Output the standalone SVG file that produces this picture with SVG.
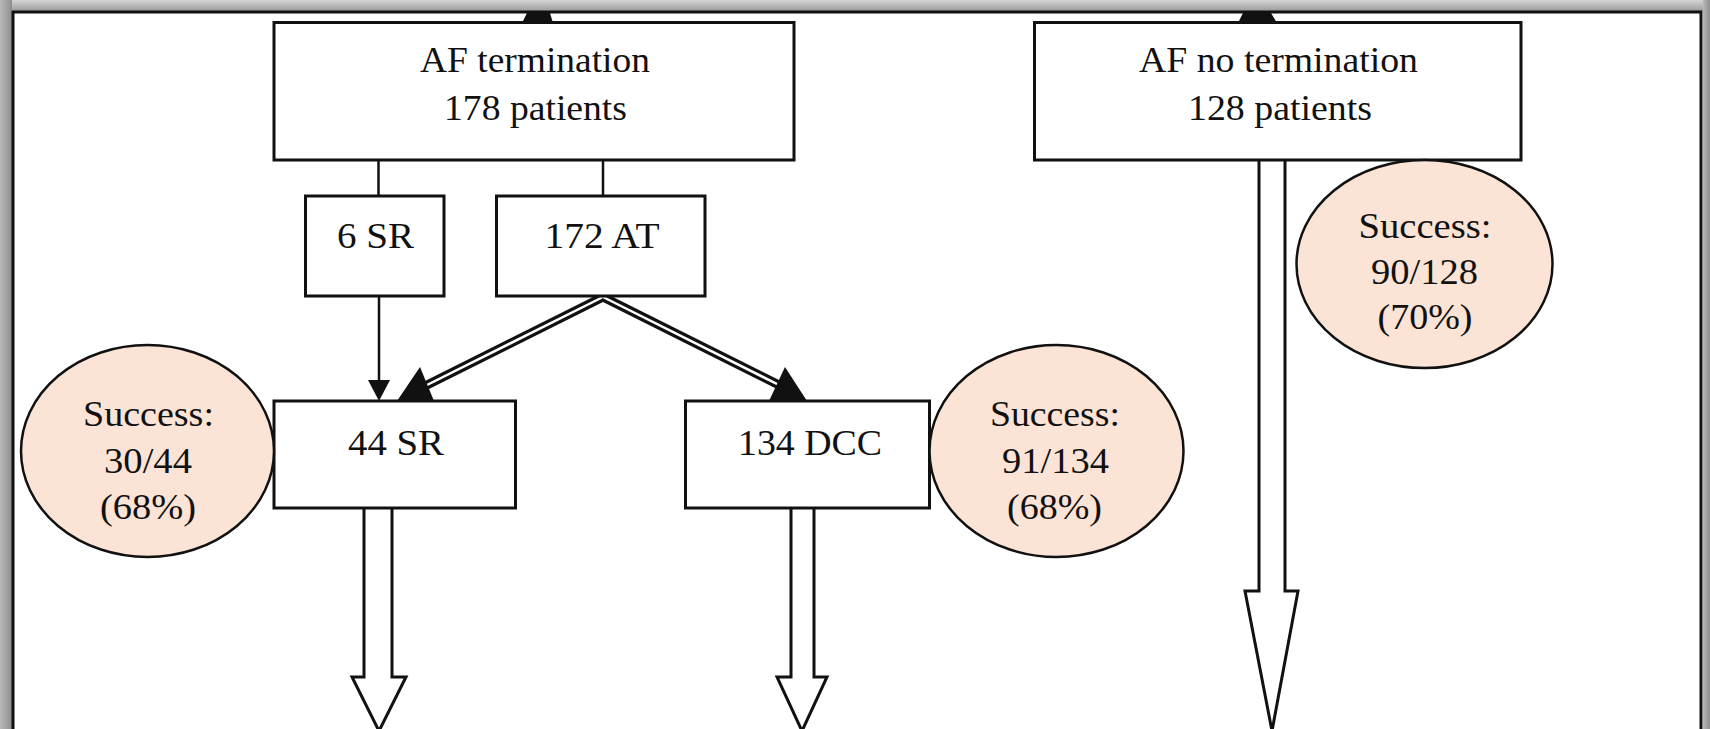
<svg xmlns="http://www.w3.org/2000/svg" width="1710" height="729" viewBox="0 0 1710 729">
  <defs>
    <linearGradient id="bandTop" x1="0" y1="0" x2="0" y2="1">
      <stop offset="0" stop-color="#d4d4d4"/>
      <stop offset="1" stop-color="#9c9c9c"/>
    </linearGradient>
    <linearGradient id="bandSide" x1="0" y1="0" x2="1" y2="0">
      <stop offset="0" stop-color="#b8b8b8"/>
      <stop offset="1" stop-color="#8e8e8e"/>
    </linearGradient>
  </defs>
  <style>
    .box { fill: #fff; stroke: #111; stroke-width: 3; }
    .oval { fill: #fbe4d5; stroke: #111; stroke-width: 2.5; }
    .t { font-family: "Liberation Serif", "Times New Roman", serif; font-size: 35px; fill: #111; text-anchor: middle; }
    .line { stroke: #111; stroke-width: 2.5; fill: none; }
    .dbl-outer { stroke: #111; stroke-width: 9; fill: none; }
    .dbl-inner { stroke: #fff; stroke-width: 2.5; fill: none; }
    .head { fill: #111; stroke: none; }
    .hollow { fill: #fff; stroke: #111; stroke-width: 3; stroke-linejoin: miter; }
  </style>

  <!-- page background and window frame -->
  <rect x="0" y="0" width="1710" height="729" fill="#fff"/>
  <rect x="0" y="0" width="1710" height="11" fill="url(#bandTop)"/>
  <rect x="0" y="0" width="12" height="729" fill="url(#bandSide)"/>
  <rect x="1703" y="0" width="7" height="729" fill="url(#bandSide)"/>
  <path d="M13,729 V12 H1701 V729" fill="none" stroke="#111" stroke-width="3"/>

  <!-- connectors -->
  <g id="connectors">
    <!-- incoming arrow ends above the two top boxes -->
    <polygon class="head" points="522,23 553,23 550,13 527,13"/>
    <polygon class="head" points="1238,23 1277,23 1271,13 1243,13"/>

    <!-- AF termination splits -->
    <line class="line" x1="378.5" y1="160" x2="378.5" y2="196"/>
    <line class="line" x1="603" y1="160" x2="603" y2="196"/>

    <!-- 6 SR to 44 SR -->
    <line class="line" x1="379" y1="296" x2="379" y2="384"/>
    <polygon class="head" points="368,380 390,380 379,401"/>

    <!-- 172 AT double lines -->
    <line class="dbl-outer" x1="603" y1="297" x2="420" y2="388.5"/>
    <line class="dbl-inner" x1="603" y1="297" x2="424" y2="386.5"/>
    <line class="dbl-outer" x1="603" y1="297" x2="790" y2="390.5"/>
    <line class="dbl-inner" x1="603" y1="297" x2="786" y2="388.5"/>
    <polygon class="head" points="420,367 397,401 434,401"/>
    <polygon class="head" points="785,367 769,401 807,401"/>

    <!-- hollow block arrows -->
    <polyline class="hollow" points="364,508 364,677 352,677 379,731 406,677 392,677 392,508"/>
    <polyline class="hollow" points="791,508 791,677 777,677 802,731 827,677 814,677 814,508"/>
    <polyline class="hollow" points="1259,160 1259,591 1245,591 1272,731 1298,591 1285,591 1285,160"/>
  </g>

  <!-- nodes -->
  <g id="af-termination">
    <rect class="box" x="274" y="22.5" width="520" height="137.5"/>
    <text class="t" x="535" y="72" textLength="230" lengthAdjust="spacingAndGlyphs">AF termination</text>
    <text class="t" x="535.5" y="120" textLength="183" lengthAdjust="spacingAndGlyphs">178 patients</text>
  </g>

  <g id="af-no-termination">
    <rect class="box" x="1034.5" y="22.5" width="486.5" height="137.5"/>
    <text class="t" x="1278.5" y="72" textLength="279" lengthAdjust="spacingAndGlyphs">AF no termination</text>
    <text class="t" x="1280" y="120" textLength="184" lengthAdjust="spacingAndGlyphs">128 patients</text>
  </g>

  <g id="sr6">
    <rect class="box" x="305.5" y="196" width="138.5" height="100"/>
    <text class="t" x="375.5" y="248" textLength="77" lengthAdjust="spacingAndGlyphs">6 SR</text>
  </g>

  <g id="at172">
    <rect class="box" x="496.5" y="196" width="208.5" height="100"/>
    <text class="t" x="602" y="248" textLength="115" lengthAdjust="spacingAndGlyphs">172 AT</text>
  </g>

  <g id="sr44">
    <rect class="box" x="274" y="401" width="241.5" height="107"/>
    <text class="t" x="396" y="455" textLength="96" lengthAdjust="spacingAndGlyphs">44 SR</text>
  </g>

  <g id="dcc134">
    <rect class="box" x="685.5" y="401" width="244" height="107"/>
    <text class="t" x="810" y="455" textLength="144" lengthAdjust="spacingAndGlyphs">134 DCC</text>
  </g>

  <g id="success-sr">
    <ellipse class="oval" cx="147.5" cy="451" rx="126.5" ry="106"/>
    <text class="t" x="148.5" y="426" textLength="131" lengthAdjust="spacingAndGlyphs">Success:</text>
    <text class="t" x="148" y="473" textLength="88" lengthAdjust="spacingAndGlyphs">30/44</text>
    <text class="t" x="148" y="519" textLength="96" lengthAdjust="spacingAndGlyphs">(68%)</text>
  </g>

  <g id="success-dcc">
    <ellipse class="oval" cx="1056.5" cy="451" rx="127" ry="106"/>
    <text class="t" x="1055" y="426" textLength="130" lengthAdjust="spacingAndGlyphs">Success:</text>
    <text class="t" x="1055.5" y="473" textLength="107" lengthAdjust="spacingAndGlyphs">91/134</text>
    <text class="t" x="1054.5" y="519" textLength="95" lengthAdjust="spacingAndGlyphs">(68%)</text>
  </g>

  <g id="success-no-termination">
    <ellipse class="oval" cx="1424.5" cy="264" rx="128" ry="104"/>
    <text class="t" x="1425" y="238" textLength="133" lengthAdjust="spacingAndGlyphs">Success:</text>
    <text class="t" x="1424.5" y="284" textLength="107" lengthAdjust="spacingAndGlyphs">90/128</text>
    <text class="t" x="1425" y="329" textLength="95" lengthAdjust="spacingAndGlyphs">(70%)</text>
  </g>
</svg>
